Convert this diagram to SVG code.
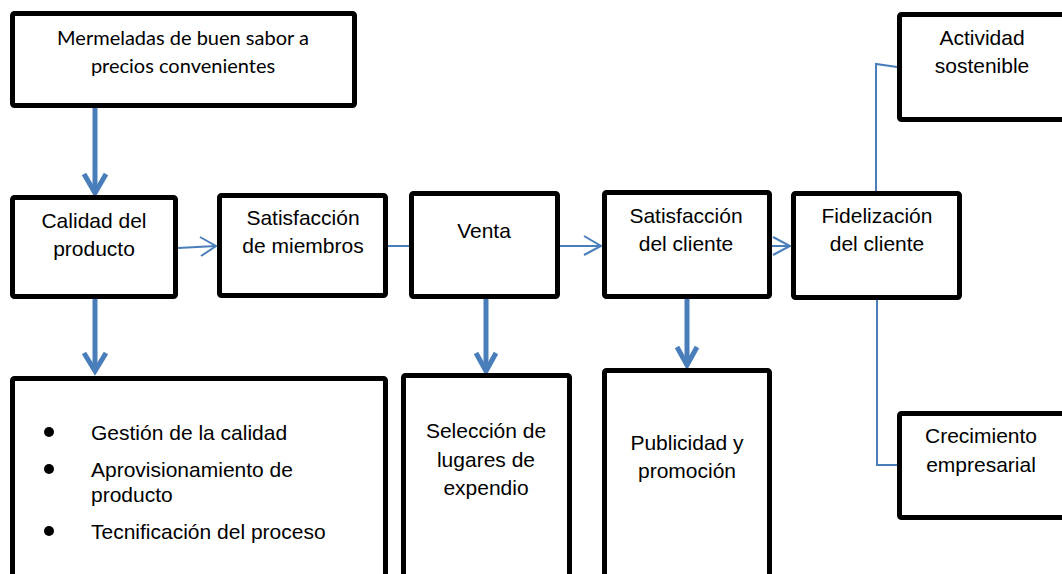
<svg xmlns="http://www.w3.org/2000/svg" width="1062" height="574" viewBox="0 0 1062 574">
<style>
.box{fill:#fff;stroke:#000;stroke-width:5;stroke-linejoin:round}
.t{font-family:"Liberation Sans",Arial,sans-serif;font-size:21px;fill:#000;text-anchor:middle}
.tl{font-family:"Liberation Sans",Arial,sans-serif;font-size:21px;fill:#000}
.c{font-family:Lato,"Open Sans",sans-serif;font-size:20px;fill:#000;text-anchor:middle}
.thick{stroke:#4a7ebb;stroke-width:5;fill:none}
.thin{stroke:#4a7ebb;stroke-width:2;fill:none}
</style>
<rect width="1062" height="574" fill="#fff"/>
<g id="connectors">
  <line class="thick" x1="95" y1="108" x2="95" y2="192"/>
  <polyline class="thick" points="84,174 95,193 106,174"/>
  <line class="thick" x1="95" y1="299" x2="95" y2="369"/>
  <polyline class="thick" points="84,353 95,371 106,353"/>
  <line class="thick" x1="486" y1="299" x2="486" y2="369"/>
  <polyline class="thick" points="476,353 486,371 496,353"/>
  <line class="thick" x1="687" y1="299" x2="687" y2="363"/>
  <polyline class="thick" points="677,347 687,365 697,347"/>
  <line class="thin" x1="178" y1="248" x2="216" y2="246"/>
  <polyline class="thin" points="200,237 216,246 201,256"/>
  <line class="thin" x1="388" y1="246" x2="410" y2="246"/>
  <line class="thin" x1="560" y1="246" x2="601" y2="246"/>
  <polyline class="thin" points="584,236 601,246 584,255"/>
  <line class="thin" x1="772" y1="246" x2="790" y2="246"/>
  <polyline class="thin" points="773,237 790,246 773,255"/>
  <polyline class="thin" points="876,191 876,64 897,67"/>
  <polyline class="thin" points="877,300 877,465 897,465"/>
</g>
<g id="n-mermeladas">
  <rect class="box" x="12.5" y="13.5" width="342" height="92" rx="2"/>
  <text class="c" x="183" y="45">Mermeladas de buen sabor a</text>
  <text class="c" x="183" y="73">precios convenientes</text>
</g>
<g id="n-calidad">
  <rect class="box" x="12.5" y="197.5" width="163" height="99" rx="2"/>
  <text class="t" x="94" y="228">Calidad del</text>
  <text class="t" x="94" y="256">producto</text>
</g>
<g id="n-satisf-miembros">
  <rect class="box" x="219.5" y="195.5" width="166" height="100" rx="2"/>
  <text class="t" x="303" y="225">Satisfacción</text>
  <text class="t" x="303" y="253">de miembros</text>
</g>
<g id="n-venta">
  <rect class="box" x="411.5" y="193.5" width="146" height="103" rx="2"/>
  <text class="t" x="484" y="238">Venta</text>
</g>
<g id="n-satisf-cliente">
  <rect class="box" x="604.5" y="192.5" width="165" height="104" rx="2"/>
  <text class="t" x="686" y="223">Satisfacción</text>
  <text class="t" x="686" y="251">del cliente</text>
</g>
<g id="n-fidelizacion">
  <rect class="box" x="793.5" y="193.5" width="166" height="104" rx="2"/>
  <text class="t" x="877" y="223">Fidelización</text>
  <text class="t" x="877" y="251">del cliente</text>
</g>
<g id="n-actividad">
  <rect class="box" x="899.5" y="14.5" width="180" height="105" rx="2"/>
  <text class="t" x="982" y="45">Actividad</text>
  <text class="t" x="982" y="73">sostenible</text>
</g>
<g id="n-crecimiento">
  <rect class="box" x="899.5" y="413.5" width="180" height="104" rx="2"/>
  <text class="t" x="981" y="443">Crecimiento</text>
  <text class="t" x="981" y="472">empresarial</text>
</g>
<g id="n-lista">
  <rect class="box" x="12.5" y="378.5" width="373" height="230" rx="2"/>
  <circle cx="49" cy="432" r="5"/>
  <circle cx="49" cy="469" r="5"/>
  <circle cx="49" cy="531" r="5"/>
  <text class="tl" x="91" y="440">Gestión de la calidad</text>
  <text class="tl" x="91" y="477">Aprovisionamiento de</text>
  <text class="tl" x="91" y="502">producto</text>
  <text class="tl" x="91" y="539">Tecnificación del proceso</text>
</g>
<g id="n-seleccion">
  <rect class="box" x="403.5" y="375.5" width="166" height="230" rx="2"/>
  <text class="t" x="486" y="438">Selección de</text>
  <text class="t" x="486" y="467">lugares de</text>
  <text class="t" x="486" y="495">expendio</text>
</g>
<g id="n-publicidad">
  <rect class="box" x="604.5" y="370.5" width="165" height="230" rx="2"/>
  <text class="t" x="687" y="450">Publicidad y</text>
  <text class="t" x="687" y="478">promoción</text>
</g>
</svg>
